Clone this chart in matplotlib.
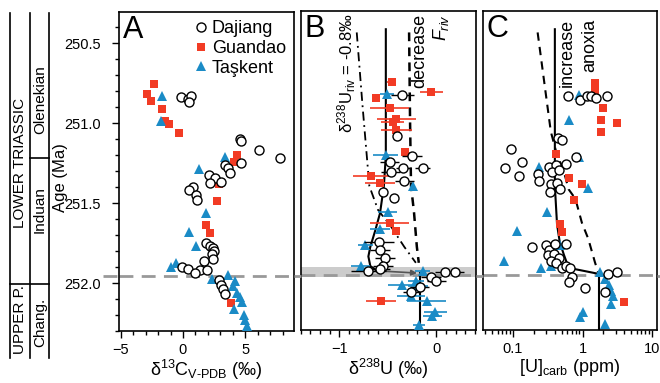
import matplotlib
matplotlib.use("Agg")
import matplotlib.pyplot as plt
import matplotlib.ticker as mticker
import matplotlib.transforms as mtransforms
from matplotlib.lines import Line2D

plt.rcParams["font.family"] = ["Liberation Sans", "DejaVu Sans"]
plt.rcParams["mathtext.fontset"] = "custom"
plt.rcParams["mathtext.rm"] = "Liberation Sans"
plt.rcParams["mathtext.it"] = "Liberation Sans:italic"
plt.rcParams["mathtext.bf"] = "Liberation Sans:bold"

RED = "#f23b24"
BLUE = "#1a8bc6"

# --- A: carbon isotopes ---
dajiang_age_c = [250.84, 250.85, 250.83, 250.87, 251.10, 251.11, 251.17, 251.22, 251.25, 251.26,
                 251.28, 251.31, 251.325, 251.346, 251.377, 251.367, 251.40, 251.42, 251.45, 251.48,
                 251.75, 251.77, 251.78, 251.80, 251.82, 251.85, 251.86, 251.90, 251.91, 251.92,
                 251.935, 251.92, 251.98, 252.01, 252.04, 252.07]
dajiang_c13 = [-0.19, 0.43, 0.65, 0.51, 4.57, 4.63, 6.08, 7.80, 4.63, 3.36,
               3.63, 3.77, 2.10, 2.56, 2.15, 3.06, 0.81, 0.48, 1.08, 1.16,
               1.83, 2.15, 2.42, 2.48, 2.29, 2.42, 1.67, -0.05, 0.41, 1.35,
               0.94, 1.89, 2.90, 3.02, 3.23, 3.36]
guandao_age_c = [250.756, 250.82, 250.86, 250.914, 250.986, 251.006, 251.06, 251.20, 251.246,
                 251.38, 251.485, 251.64, 251.685, 252.127]
guandao_c13 = [-2.34, -2.87, -2.55, -1.69, -1.42, -1.13, -0.32, 4.35, 4.11,
               2.90, 2.74, 1.83, 2.15, 3.82]
taskent_age_c = [250.83, 250.986, 251.21, 251.29, 251.565, 251.683, 251.77, 251.877, 251.90, 251.975,
                 251.95, 251.99, 252.02, 252.06, 252.09, 252.12, 252.16, 252.20, 252.23, 252.27]
taskent_c13 = [-1.72, -1.74, 3.34, 1.29, 1.83, 0.46, 1.05, -0.59, -0.94, 2.29,
               3.63, 4.17, 4.03, 4.35, 4.57, 4.71, 4.09, 4.90, 4.98, 5.11]

# --- B: uranium isotopes with 2SD bars ---
dajiang_age_u = [250.83, 251.09, 251.21, 251.25, 251.29, 251.31, 251.29, 251.37, 251.44, 251.475,
                 251.75, 251.80, 251.85, 251.90, 251.92, 251.93, 251.935, 251.94, 251.97, 251.995,
                 252.03, 252.06]
dajiang_u238 = [-0.35, -0.40, -0.25, -0.48, -0.34, -0.47, -0.14, -0.33, -0.55, -0.44,
                -0.59, -0.58, -0.53, -0.55, -0.58, -0.70, 0.19, 0.09, -0.055, 0.0,
                -0.17, -0.26]
dajiang_u238_err = [0.12, 0.0, 0.10, 0.10, 0.08, 0.10, 0.08, 0.10, 0.0, 0.0,
                    0.15, 0.10, 0.10, 0.10, 0.10, 0.18, 0.10, 0.10, 0.10, 0.10,
                    0.10, 0.08]
guandao_age_u = [250.748, 250.81, 250.85, 250.91, 250.98, 251.00, 251.05, 251.19, 251.34, 251.38,
                 251.63, 251.68, 252.12]
guandao_u238 = [-0.46, -0.05, -0.62, -0.48, -0.41, -0.45, -0.41, -0.32, -0.67, -0.58,
                -0.48, -0.42, -0.57]
guandao_u238_err = [0.05, 0.12, 0.03, 0.20, 0.20, 0.12, 0.16, 0.0, 0.19, 0.15,
                    0.20, 0.0, 0.15]
taskent_age_u = [250.825, 251.206, 251.40, 251.56, 251.67, 251.77, 251.90, 251.93, 251.995, 252.02,
                 252.025, 252.09, 252.12, 252.19, 252.21, 252.27]
taskent_u238 = [-0.51, -0.52, -0.235, -0.50, -0.58, -0.73, -0.78, -0.14, -0.21, -0.35,
                -0.19, -0.26, -0.10, -0.01, -0.04, -0.18]
taskent_u238_err = [0.07, 0.13, 0.0, 0.10, 0.10, 0.08, 0.10, 0.08, 0.08, 0.15,
                    0.10, 0.14, 0.20, 0.12, 0.10, 0.06]

# model curves for B
steady_age = [250.42, 251.21, 251.40, 251.57, 251.68, 251.78, 251.84, 251.90, 251.93]
steady_u = [-0.52, -0.52, -0.54, -0.58, -0.63, -0.68, -0.70, -0.68, -0.61]
post_age = [251.945, 252.30]
post_u = [-0.17, -0.17]
friv_age = [250.44, 251.0, 251.40, 251.56, 251.78, 251.88]
friv_u = [-0.28, -0.27, -0.26, -0.23, -0.20, -0.18]
riv_age = [250.44, 250.90, 251.40, 251.55, 251.65, 251.78, 251.88]
riv_u = [-0.82, -0.76, -0.69, -0.60, -0.47, -0.33, -0.21]

# --- C: carbonate U concentration ---
dajiang_age_uc = [250.84, 250.86, 250.835, 250.84, 250.85, 250.84, 251.10, 251.11, 251.17, 251.25,
                  251.29, 251.34, 251.325, 251.37, 251.28, 251.27, 251.26, 251.22, 251.31, 251.30,
                  251.39, 251.38, 251.44, 251.42, 251.78, 251.77, 251.80, 251.76, 251.76, 251.83,
                  251.825, 251.85, 251.87, 251.88, 251.91, 251.90, 251.91, 251.97, 252.00, 252.04,
                  251.95, 251.94, 252.06]
dajiang_uc = [0.61, 0.93, 1.15, 1.33, 1.56, 2.28, 0.45, 0.50, 0.095, 0.136,
              0.077, 0.122, 0.226, 0.24, 0.33, 0.42, 0.57, 0.80, 0.36, 0.46,
              0.35, 0.43, 0.34, 0.48, 0.19, 0.30, 0.33, 0.40, 0.58, 0.32,
              0.39, 0.46, 0.35, 0.41, 0.51, 0.57, 0.67, 0.71, 0.63, 1.07,
              2.33, 3.12, 2.09]
guandao_age_uc = [250.756, 250.80, 250.91, 250.986, 251.006, 251.06, 251.20, 251.35, 251.39,
                  251.485, 251.64, 251.685, 252.127]
guandao_uc = [1.51, 1.51, 1.98, 1.87, 3.12, 1.87, 0.42, 0.63, 0.98,
              0.75, 0.48, 0.50, 3.92]
taskent_age_uc = [250.83, 250.99, 251.28, 251.22, 251.41, 251.56, 251.68, 251.77, 251.87, 251.91,
                  251.90, 251.94, 251.98, 252.02, 252.055, 252.085, 252.14, 252.19, 252.22, 252.26]
taskent_uc = [0.90, 0.63, 0.24, 0.88, 1.19, 0.31, 0.116, 0.48, 0.073, 0.25,
              0.35, 1.78, 2.09, 2.38, 2.54, 2.74, 2.59, 1.03, 0.93, 2.13]

anox_age = [250.42, 251.40, 251.64, 251.75, 251.83, 251.91, 251.92, 251.95]
anox_uc = [0.40, 0.40, 0.43, 0.47, 0.54, 0.63, 0.79, 1.75]
anox_post_age = [251.95, 252.30]
anox_post_uc = [1.75, 1.75]
anox_dash_age = [250.44, 251.06, 251.19, 251.31, 251.42, 251.48, 251.63, 251.73, 251.877, 251.94]
anox_dash_uc = [0.226, 0.35, 0.42, 0.54, 0.63, 0.79, 0.98, 1.21, 1.51, 1.68]

PTB_AGE = 251.955
BAND = (251.904, 251.967)

W, H = 660, 383


def px_rect(l, r, t, b):
    return [l / W, 1 - b / H, (r - l) / W, (b - t) / H]


circ = dict(marker="o", mfc="white", mec="black", mew=1.0, ms=6.5, ls="none")
sq = dict(marker="s", color=RED, mew=0, ms=6, ls="none")
tri = dict(marker="^", color=BLUE, mew=0, ms=7.5, ls="none")

fig = plt.figure(figsize=(W / 100, H / 100), dpi=100)
axA = fig.add_axes(px_rect(119, 294, 12, 331))
axB = fig.add_axes(px_rect(300.5, 476, 11, 330), sharey=axA)
axC = fig.add_axes(px_rect(483, 656.5, 11, 330), sharey=axA)

# panel A
hg, = axA.plot(guandao_c13, guandao_age_c, label="Guandao", zorder=3, **sq)
ht, = axA.plot(taskent_c13, taskent_age_c, label="Taşkent", zorder=4, **tri)
hd, = axA.plot(dajiang_c13, dajiang_age_c, label="Dajiang", zorder=5, **circ)
axA.set_xlim(-5.13, 8.9)
axA.set_ylim(252.3, 250.306)
axA.xaxis.set_major_locator(mticker.MultipleLocator(5))
axA.xaxis.set_minor_locator(mticker.MultipleLocator(1))
axA.yaxis.set_major_locator(mticker.MultipleLocator(0.5))
axA.yaxis.set_minor_locator(mticker.MultipleLocator(0.1))
axA.yaxis.set_major_formatter(mticker.FormatStrFormatter("%.1f"))
axA.set_xlabel("δ$^{13}$C$_{\\rm V\u2010PDB}$ (‰)", fontsize=13, labelpad=1)
axA.legend(handles=[hd, hg, ht], loc="upper right", frameon=False, fontsize=13,
           handlelength=0.6, handletextpad=0.3, labelspacing=0.15,
           borderaxespad=0.25, borderpad=0.2)

# panel B
axB.axhspan(BAND[0], BAND[1], color="#cccccc", lw=0, zorder=0.5)
axB.plot(steady_u, steady_age, color="black", lw=1.5, zorder=2)
axB.plot(post_u, post_age, color="black", lw=1.5, zorder=2)
axB.plot(friv_u, friv_age, color="black", lw=1.8, dashes=(3.5, 2.5), zorder=2)
axB.plot(riv_u, riv_age, color="black", lw=1.3, dashes=(5, 2.5, 1, 2.5), zorder=2)
axB.annotate("", xy=(post_u[0], post_age[0]), xytext=(steady_u[-1], steady_age[-1]),
             arrowprops=dict(arrowstyle="-|>", color="#555555", lw=1.2, mutation_scale=8),
             zorder=2)
axB.errorbar(guandao_u238, guandao_age_u, xerr=guandao_u238_err, ecolor=RED, elinewidth=1.2,
             capsize=0, zorder=3, **sq)
axB.errorbar(taskent_u238, taskent_age_u, xerr=taskent_u238_err, ecolor=BLUE, elinewidth=1.2,
             capsize=0, zorder=4, **tri)
axB.errorbar(dajiang_u238, dajiang_age_u, xerr=dajiang_u238_err, ecolor="black", elinewidth=1.0,
             capsize=0, zorder=5, **circ)
axB.set_xlim(-1.40, 0.41)
axB.xaxis.set_major_locator(mticker.MultipleLocator(1))
axB.xaxis.set_minor_locator(mticker.MultipleLocator(0.1))
axB.set_xlabel("δ$^{238}$U (‰)", fontsize=13, labelpad=1)
axB.text(0.265, 0.995, "δ$^{238}$U$_{\\rm riv}$ = -0.8‰", transform=axB.transAxes,
         rotation=90, ha="center", va="top", fontsize=12)
axB.text(0.68, 0.99, "decrease", transform=axB.transAxes, rotation=90,
         ha="center", va="top", fontsize=13)
axB.text(0.80, 0.99, "$F_{riv}$", transform=axB.transAxes, rotation=90,
         ha="center", va="top", fontsize=13)

# panel C
axC.plot(anox_uc, anox_age, color="black", lw=1.5, zorder=2)
axC.plot(anox_post_uc, anox_post_age, color="black", lw=1.5, zorder=2)
axC.plot(anox_dash_uc, anox_dash_age, color="black", lw=1.5, dashes=(4, 3), zorder=2)
axC.plot(guandao_uc, guandao_age_uc, zorder=3, **sq)
axC.plot(taskent_uc, taskent_age_uc, zorder=4, **tri)
axC.plot(dajiang_uc, dajiang_age_uc, zorder=5, **circ)
axC.set_xscale("log")
axC.set_xlim(0.037, 11.6)
axC.xaxis.set_major_formatter(mticker.FuncFormatter(lambda v, p: f"{v:g}"))
axC.xaxis.set_minor_formatter(mticker.NullFormatter())
axC.set_xlabel("[U]$_{\\rm carb}$ (ppm)", fontsize=13, labelpad=1)
axC.text(0.484, 0.975, "increase", transform=axC.transAxes, rotation=90,
         ha="center", va="top", fontsize=13)
axC.text(0.617, 0.975, "anoxia", transform=axC.transAxes, rotation=90,
         ha="center", va="top", fontsize=13)

for ax, letter in ((axA, "A"), (axB, "B"), (axC, "C")):
    ax.axhline(PTB_AGE, color="#999999", lw=2, dashes=(5, 3), zorder=1.5)
    ax.text(0.02, 0.99, letter, transform=ax.transAxes, ha="left", va="top", fontsize=22)
    ax.tick_params(which="major", direction="out", length=5, width=1, labelsize=10.5)
    ax.tick_params(which="minor", direction="out", length=3, width=1)
    for s in ax.spines.values():
        s.set_linewidth(1.2)

axA.tick_params(axis="y", which="major", pad=8)
for ax in (axB, axC):
    ax.tick_params(axis="y", which="both", left=False, labelleft=False)

# PTB dashes in the gaps between panels
trans = mtransforms.blended_transform_factory(fig.transFigure, axA.transData)
for x0, x1 in [(103, 119), (294, 300.5), (476, 483), (656.5, 660)]:
    fig.add_artist(Line2D([x0 / W, x1 / W], [PTB_AGE, PTB_AGE], transform=trans,
                          color="#999999", lw=2, dashes=(5, 3)))

# stratigraphic column and age label on the left
col = fig.add_axes([0, 0, 1, 1], zorder=-1)
col.set_xlim(0, W)
col.set_ylim(H, 0)
col.axis("off")
for x in (10, 30, 49):
    col.plot([x, x], [13, 358], color="black", lw=1.2)
col.plot([10, 49], [284, 284], color="black", lw=1.2)
col.plot([30, 49], [158, 158], color="black", lw=1.2)
col.text(20, 163, "LOWER TRIASSIC", rotation=90, ha="center", va="center", fontsize=11)
col.text(20, 320, "UPPER P.", rotation=90, ha="center", va="center", fontsize=11)
col.text(40, 100, "Olenekian", rotation=90, ha="center", va="center", fontsize=11)
col.text(40, 210, "Induan", rotation=90, ha="center", va="center", fontsize=11)
col.text(40, 322, "Chang.", rotation=90, ha="center", va="center", fontsize=11)
col.text(60, 178, "Age (Ma)", rotation=90, ha="center", va="center", fontsize=12)

fig.savefig("out.png", dpi=100)
